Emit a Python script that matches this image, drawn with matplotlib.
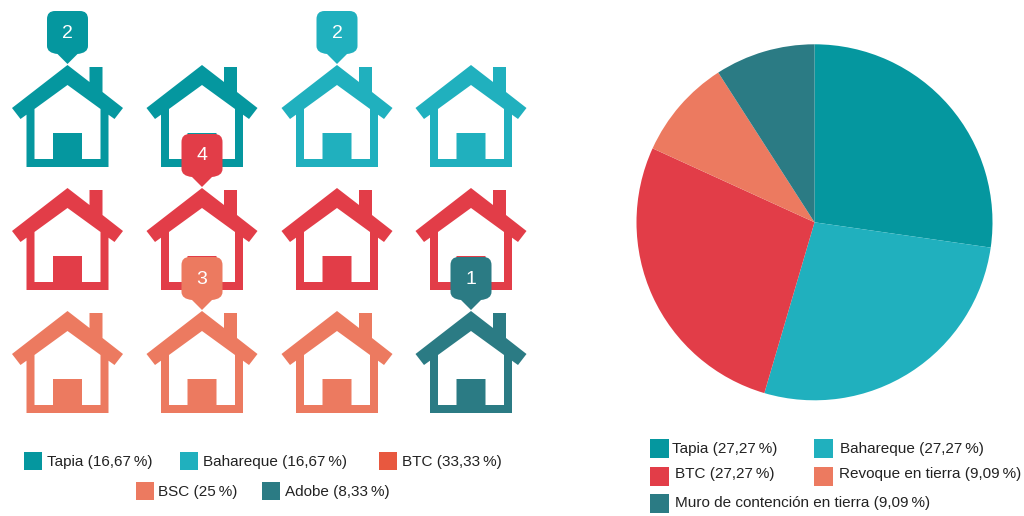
import matplotlib
matplotlib.use('Agg')
import matplotlib.pyplot as plt
from matplotlib.patches import Polygon, Rectangle, PathPatch
from matplotlib.path import Path

plt.rcParams['font.family'] = ['Liberation Sans', 'DejaVu Sans']

# ==================== data ====================
house_cats = ['Tapia', 'Bahareque', 'BTC', 'BSC', 'Adobe']
house_counts = [2, 2, 4, 3, 1]
house_share = ['16,67\u2009%', '16,67\u2009%', '33,33\u2009%', '25\u2009%', '8,33\u2009%']

pie_cats = ['Tapia', 'Bahareque', 'BTC', 'Revoque en tierra', 'Muro de contención en tierra']
pie_vals = [27.27, 27.27, 27.27, 9.09, 9.09]
pie_share = ['27,27\u2009%', '27,27\u2009%', '27,27\u2009%', '9,09\u2009%', '9,09\u2009%']

# ==================== colours / layout ====================
TEAL = '#05979F'
CYAN = '#20B0BE'
RED = '#E23D48'
SALMON = '#EC7A60'
DARK = '#2B7B84'
house_colors = [TEAL, CYAN, RED, SALMON, DARK]
house_legend_colors = [TEAL, CYAN, '#E8583F', SALMON, DARK]
pie_colors = [TEAL, CYAN, RED, SALMON, DARK]

col_x = [67.5, 202, 337, 471]
row_y = [65, 188, 311]
pin_cell = [(0, 0), (0, 2), (1, 1), (2, 1), (2, 3)]  # row, col of the pin per category

OUTER = [(0, 0), (22, 17), (22, 2), (35, 2), (35, 27), (55.5, 43), (47, 54), (41, 49.7),
         (41, 102), (-41, 102), (-41, 49.7), (-47, 54), (-55.5, 43)]
INNER = [(0, 20), (33, 44), (33, 94), (14.5, 94), (14.5, 68), (-14.5, 68),
         (-14.5, 94), (-33, 94), (-33, 44)]

fig = plt.figure(figsize=(10.24, 5.16), dpi=100, facecolor='white')
ax = fig.add_axes([0, 0, 1, 1])
ax.set_xlim(0, 1024)
ax.set_ylim(516, 0)
ax.axis('off')


def draw_house(cx, top, color):
    ax.add_patch(Polygon([(cx + x, top + y) for x, y in OUTER], closed=True, fc=color, ec='none', zorder=2))
    ax.add_patch(Polygon([(cx + x, top + y) for x, y in INNER], closed=True, fc='white', ec='none', zorder=3))


def draw_pin(cx, tip, color, label):
    # rounded box whose bottom tapers to a point
    l, r = cx - 20.5, cx + 20.5
    t = tip - 53
    side = tip - 18
    c = 8
    verts = [(l + c, t), (r - c, t), (r, t), (r, t + c), (r, side), (r, tip - 11), (cx + 10, tip - 10),
             (cx, tip), (cx - 10, tip - 10), (l, tip - 11), (l, side),
             (l, t + c), (l, t), (l + c, t), (l + c, t)]
    codes = [Path.MOVETO, Path.LINETO, Path.CURVE3, Path.CURVE3, Path.LINETO, Path.CURVE3, Path.CURVE3,
             Path.LINETO, Path.LINETO, Path.CURVE3, Path.CURVE3,
             Path.LINETO, Path.CURVE3, Path.CURVE3, Path.CLOSEPOLY]
    ax.add_patch(PathPatch(Path(verts, codes), fc=color, ec='none', zorder=5))
    ax.text(cx, t + 22, str(label), color='white', fontsize=14, ha='center', va='center', zorder=6)


# one house per count, filled row by row
cells = [(r, c) for r in range(len(row_y)) for c in range(len(col_x))]
pos = 0
for cat, n in enumerate(house_counts):
    for i in range(n):
        r, c = cells[pos]
        draw_house(col_x[c], row_y[r], house_colors[cat])
        pos += 1

for cat, n in enumerate(house_counts):
    r, c = pin_cell[cat]
    draw_pin(col_x[c], row_y[r] - 1, house_colors[cat], n)


def legend_item(x, y, w, h, color, tx, ty, label):
    ax.add_patch(Rectangle((x, y), w, h, fc=color, ec='none', zorder=2))
    ax.text(tx, ty, label, fontsize=11, color='#222222', ha='left', va='center', zorder=3)


# left legend
left_pos = [(24, 452, 47, 462), (180, 452, 203, 462), (379, 452, 402, 462),
            (136, 482, 158, 492), (262, 482, 285, 492)]
for i, (x, y, tx, ty) in enumerate(left_pos):
    legend_item(x, y, 18, 18, house_legend_colors[i], tx, ty,
                f'{house_cats[i]} ({house_share[i]})')

# right legend
right_pos = [(650, 439, 672, 449), (814, 439, 840, 449), (650, 467, 675, 474),
             (814, 467, 839, 474), (650, 494, 675, 503)]
for i, (x, y, tx, ty) in enumerate(right_pos):
    legend_item(x, y, 19, 19, pie_colors[i], tx, ty,
                f'{pie_cats[i]} ({pie_share[i]})')

# pie
cx, cy, rad = 814.5, 222.3, 178
ax_pie = fig.add_axes([(cx - rad) / 1024, 1 - (cy + rad) / 516, 2 * rad / 1024, 2 * rad / 516])
ax_pie.pie(pie_vals, colors=pie_colors, startangle=90, counterclock=False, radius=1,
           wedgeprops={'linewidth': 0})
ax_pie.set_xlim(-1, 1)
ax_pie.set_ylim(-1, 1)

plt.savefig('out.png', dpi=100, facecolor='white')
